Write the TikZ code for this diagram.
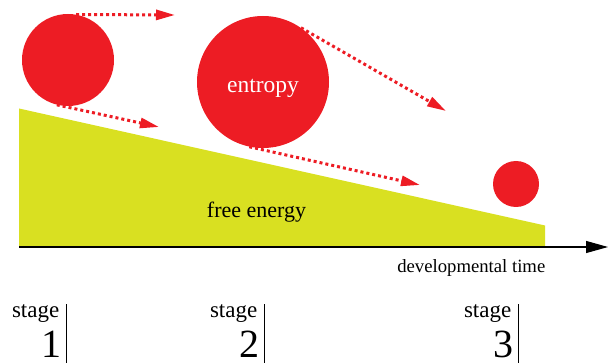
\documentclass[tikz,border=0pt]{standalone}
\usepackage{fontspec}
\setmainfont{Liberation Serif}
\usetikzlibrary{arrows.meta}
\definecolor{entred}{RGB}{237,28,36}
\definecolor{freegreen}{RGB}{217,224,33}

\begin{document}
\begin{tikzpicture}[
        x=1pt, y=-1pt,
        ball/.style={circle,fill=entred,draw=none,inner sep=0pt},
        flow/.style={entred,line width=3pt,dash pattern=on 3pt off 3pt,
                     -{Triangle[length=19pt,width=10pt]}},
        axis/.style={line width=1.1pt,-{Triangle[length=22pt,width=12pt]}},
        stagelabel/.style={inner sep=0pt,anchor=base east,font=\fontsize{23}{23}\selectfont},
        stagenum/.style={inner sep=0pt,anchor=base east,text depth=0pt,font=\fontsize{40}{40}\selectfont}
    ]
    \useasboundingbox (0,0) rectangle (612,363);

    % free energy
    \fill[freegreen] (19,108.5) -- (545,225.5) -- (545,247) -- (19,247) -- cycle;
    \node[anchor=base,inner sep=0pt,font=\fontsize{22}{22}\selectfont] (free) at (256.5,218) {free energy};

    % time axis
    \coordinate (t0) at (19,247);
    \coordinate (tend) at (608,247);
    \draw[axis] (t0) -- (tend);
    \node[anchor=base east,inner sep=0pt,font=\fontsize{18.7}{18.7}\selectfont] (time) at (545.5,272) {developmental time};

    % entropy
    \node[ball,minimum size=92pt] (small) at (68,60) {};
    \node[ball,minimum size=132pt] (big) at (263,82) {};
    \node[ball,minimum size=46pt] (tiny) at (516,184) {};
    \node[anchor=base,inner sep=0pt,text=white,font=\fontsize{23.5}{23.5}\selectfont] (entropy) at (263,93) {entropy};

    \coordinate (e1) at (175,15);
    \coordinate (e2) at (159,127);
    \coordinate (e3) at (446,111);
    \coordinate (e4) at (420,185);
    \draw[flow] (small.80) -- (e1);
    \draw[flow] (small.256) -- (e2);
    \draw[flow] (big.55) -- (e3);
    \draw[flow] (big.258) -- (e4);

    % stages
    \foreach \n/\x in {1/66,2/264,3/518}{
        \coordinate (bar\n) at (\x,304);
        \draw[line width=1pt] (bar\n) -- ++(0,59);
        \node[stagelabel] (stage\n) at (\x-6.5,317) {stage};
        \node[stagenum] (num\n) at (\x-4.5,357) {\n};
    }
\end{tikzpicture}
\end{document}
